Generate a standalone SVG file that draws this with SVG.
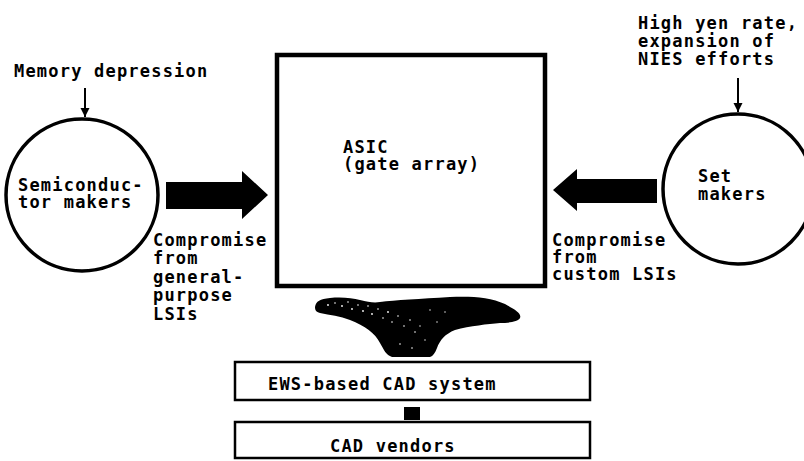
<svg xmlns="http://www.w3.org/2000/svg" width="804" height="461" viewBox="0 0 804 461">
<defs>
<style>
text{font-family:"DejaVu Sans Mono","Liberation Mono",monospace;font-size:17px;letter-spacing:1.2px;font-weight:bold;fill:#000}
.node{fill:#fff;stroke:#000}
.thin{fill:none;stroke:#000;stroke-width:2}
.blk{fill:#000;stroke:none}
</style>
<marker id="ah" markerWidth="10" markerHeight="12" refX="9" refY="6" orient="auto" markerUnits="userSpaceOnUse">
<path d="M0,1.5 L9,6 L0,10.5 Z" fill="#000"/>
</marker>
</defs>
<rect width="804" height="461" fill="#fff"/>

<g id="memory-depression">
<text x="14" y="77">Memory depression</text>
</g>
<g id="high-yen">
<text x="638" y="29">High yen rate,</text>
<text x="638" y="47">expansion of</text>
<text x="638" y="65">NIES efforts</text>
</g>

<g id="semiconductor-makers">
<circle class="node" cx="82" cy="195" r="76" stroke-width="3.5"/>
<text x="18" y="191">Semiconduc-</text>
<text x="18" y="208">tor makers</text>
</g>

<g id="set-makers">
<circle class="node" cx="738" cy="189" r="75" stroke-width="3.5"/>
<text x="698" y="182">Set</text>
<text x="698" y="200">makers</text>
</g>

<g id="asic">
<rect class="node" x="277" y="55" width="268" height="231" stroke-width="4.5"/>
<text x="343" y="153">ASIC</text>
<text x="343" y="170">(gate array)</text>
</g>

<g id="label-general">
<text x="153" y="246">Compromise</text>
<text x="153" y="264">from</text>
<text x="153" y="283">general-</text>
<text x="153" y="301">purpose</text>
<text x="153" y="320">LSIs</text>
</g>

<g id="label-custom">
<text x="552" y="246">Compromise</text>
<text x="552" y="263">from</text>
<text x="552" y="280">custom LSIs</text>
</g>

<g id="ews-cad">
<rect class="node" x="235" y="362" width="355" height="38" stroke-width="2.5"/>
<text x="268" y="390">EWS-based CAD system</text>
</g>

<g id="cad-vendors">
<rect class="node" x="235" y="422" width="355" height="36" stroke-width="2.5"/>
<text x="330" y="452">CAD vendors</text>
</g>

<g id="connectors">
<line class="thin" x1="85" y1="88" x2="85" y2="117" marker-end="url(#ah)"/>
<line class="thin" x1="738" y1="78" x2="738" y2="112" marker-end="url(#ah)"/>
<path class="blk" d="M166,182 L242,182 L242,171 L268,195 L242,219 L242,209 L166,209 Z"/>
<path class="blk" d="M657,179 L577,179 L577,169 L553,190 L577,211 L577,203 L657,203 Z"/>
<rect class="blk" x="404" y="407" width="16" height="13"/>
<path class="blk" d="M315,307 C316,301 320,299 330,298 C342,297 352,298 360,300 C368,302 374,303 380,302 C395,300 420,299 450,297 C470,296 490,297 505,304 C514,309 522,313 520,318 C518,322 508,323 500,323 C488,324 470,326 455,330 C445,334 440,340 437,348 C435,353 433,356 430,357 L392,357 C386,355 384,350 380,343 C375,333 365,326 350,320 C340,316 330,315 320,313 C316,312 315,310 315,307 Z"/>
<g fill="#fff">
<circle cx="328" cy="305" r="0.9"/><circle cx="335" cy="303" r="0.8"/><circle cx="342" cy="306" r="0.9"/><circle cx="348" cy="302" r="0.8"/><circle cx="352" cy="309" r="0.9"/><circle cx="358" cy="305" r="0.8"/><circle cx="363" cy="311" r="0.9"/><circle cx="368" cy="306" r="0.8"/><circle cx="372" cy="314" r="0.9"/><circle cx="378" cy="309" r="0.8"/><circle cx="383" cy="318" r="0.8"/><circle cx="388" cy="312" r="0.9"/><circle cx="392" cy="322" r="0.8"/><circle cx="398" cy="316" r="0.8"/><circle cx="404" cy="326" r="0.8"/><circle cx="410" cy="320" r="0.8"/><circle cx="415" cy="332" r="0.8"/><circle cx="420" cy="326" r="0.7"/><circle cx="400" cy="344" r="0.8"/><circle cx="412" cy="348" r="0.8"/><circle cx="425" cy="340" r="0.7"/><circle cx="430" cy="310" r="0.7"/><circle cx="437" cy="322" r="0.7"/><circle cx="445" cy="312" r="0.7"/>
</g>
</g>
</svg>
